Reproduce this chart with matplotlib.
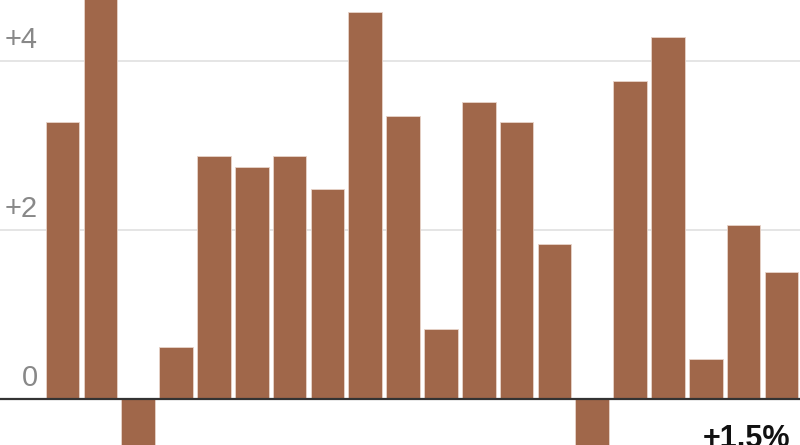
import matplotlib
matplotlib.use('Agg')
import matplotlib.pyplot as plt
import numpy as np

# monthly change, percent
values = [3.28, 5.0, -0.8, 0.62, 2.87, 2.74, 2.88, 2.49, 4.58, 3.35,
          0.83, 3.51, 3.28, 1.83, -0.7, 3.76, 4.28, 0.47, 2.06, 1.5]
tick_vals = [0, 2, 4]
tick_labels = ['0', '+2', '+4']
last_label = '+1.5%'

plt.rcParams['font.family'] = ['Liberation Sans', 'DejaVu Sans']

fig = plt.figure(figsize=(8, 4.45), dpi=100)
ax = fig.add_axes([0, 0, 1, 1])

x = np.arange(len(values))
step = 37.84  # px per bar slot
ax.set_xlim(-62.5 / step, -62.5 / step + 800 / step)
ax.set_ylim(-46 / 84.5, 399 / 84.5)

for v in tick_vals[1:]:
    ax.axhline(v, color='#e3e3e3', linewidth=1.3, zorder=0)

ax.bar(x, values, width=0.89, color='#a0674a', edgecolor='#e8d4ca',
       linewidth=0.6, zorder=2)
ax.axhline(0, color='#333333', linewidth=1.6, zorder=3)

for v, lab in zip(tick_vals, tick_labels):
    ax.annotate(lab, xy=(0, v), xycoords=('axes fraction', 'data'),
                xytext=(38, 7), textcoords='offset pixels',
                ha='right', va='bottom', fontsize=21, color='#888888')

ax.annotate(last_label, xy=(1, 0), xycoords='axes fraction',
            xytext=(-10, 21), textcoords='offset pixels',
            ha='right', va='top', fontsize=22, fontweight='bold',
            color='#111111', annotation_clip=False)

ax.axis('off')
fig.savefig('out.png', dpi=100)
